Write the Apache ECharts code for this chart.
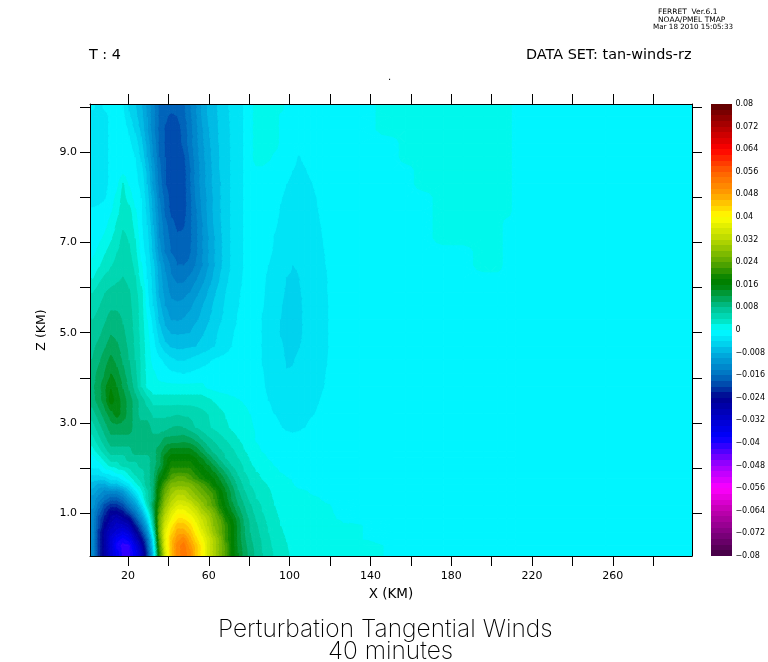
<!DOCTYPE html>
<html><head><meta charset="utf-8">
<style>html,body{margin:0;padding:0;background:#fff}#c{width:768px;height:662px}</style>
<script src="https://cdn.jsdelivr.net/npm/echarts@6/dist/echarts.min.js"></script>
</head><body><div id="c"></div>
<script>
// Tick values and text
const xTicks = [20,40,60,80,100,120,140,160,180,200,220,240,260,280];
const xLabels = [20,60,100,140,180,220,260];
const zTicks = [1,2,3,4,5,6,7,8,9,10];
const zLabels = [1,3,5,7,9];
const barLabels = [0.08,0.072,0.064,0.056,0.048,0.04,0.032,0.024,0.016,0.008,0,-0.008,-0.016,-0.024,-0.032,-0.04,-0.048,-0.056,-0.064,-0.072,-0.08];
const xRange = [1.19,299.2];
const zRange = [0.05,10.07];

// Colour stops of the key: [value, colour]
const keyStops = [[-0.08,'#400040'],[-0.072,'#800080'],[-0.064,'#c000b0'],[-0.056,'#ff00ff'],[-0.048,'#a000ff'],[-0.038,'#0000ff'],[-0.032,'#0000d0'],[-0.024,'#000090'],[-0.02,'#0040a8'],[-0.016,'#0070c0'],[-0.008,'#00b0e0'],[-0.005,'#00d2ee'],[-0.003,'#00e4f6'],[-0.001,'#00f5ff'],[0.001,'#00f8ec'],[0.003,'#00e6c8'],[0.008,'#00c090'],[0.016,'#008000'],[0.018,'#008000'],[0.024,'#5aa800'],[0.032,'#b8d800'],[0.04,'#ffff00'],[0.048,'#ffa000'],[0.056,'#ff6000'],[0.064,'#ff0000'],[0.072,'#b00000'],[0.08,'#5a0000']];

// Wind values in thousandths.
// Near field: x from 1 to 121 km in 3 km columns. Rows run bottom to top.
const nearXEdges = [1,4,7,10,13,16,19,22,25,28,31,34,37,40,43,46,49,52,55,58,61,64,67,70,73,76,79,82,85,88,91,94,97,100,103,106,109,112,115,118,121];
const nearZEdges = [0.05,0.2,0.35,0.5,0.65,0.8,0.95,1.1,1.25,1.4,1.55,1.7,1.85,2,2.15,2.3,2.45,2.75,3.05,3.35,3.65,3.95,4.25,4.55,4.85,5.15,5.45,5.75,6.05,6.35,6.65,6.95,7.25,7.55,7.85,8.15,8.45,8.75,9.05,9.35,9.65,9.95,10.07];
const r00 = [-13,-21,-27,-33,-37,-41,-41,-37,-31,-21,-7,19,35,45,51,53,51,45,41,35,31,27,23,17,14,11,9,7.3,6,4.8,3.7,3,2.3,1.5,1.3,1.2,1.1,1,.9,.8];
const r01 = [-13,-21,-27,-33,-39,-41,-41,-35,-29,-19,-5,21,37,45,51,53,49,45,41,35,31,27,23,17,13.5,10.7,8.7,7.1,5.8,4.4,3.5,2.8,2.1,1,.95,.9,.85,.8,.75,.7];
const r02 = [-13,-21,-27,-33,-37,-39,-37,-31,-25,-17,-3,23,37,45,49,51,47,43,39,35,31,27,21,17,13,10.3,8.2,6.9,5.6,4.2,3.4,2.6,1.9,1,.9,.8,.75,.7,.65,.6];
const r03 = [-13,-21,-27,-31,-33,-35,-33,-27,-21,-13,1,25,37,43,47,47,45,41,37,33,29,25,21,17,13,10,8,6.5,5.2,4,3.1,2.3,1.5,1,.85,.75,.65,.6,.55,.5];
const r04 = [-13,-19,-25,-29,-31,-31,-29,-23,-17,-9,5,25,35,41,45,45,43,39,35,32,28,25,21,17,13,10,7.8,6.2,4.9,3.7,2.8,2,1.4,1,.8,.7,.6,.5,.45,.4];
const r05 = [-13,-19,-23,-27,-29,-27,-25,-19,-13,-5,7,25,33,38,42,42,40,37,34,31,27,24,19,16,12.5,9.5,7.3,5.8,4.4,3.4,2.5,1.8,1.2,.8,.7,.6,.5,.4,.35,.3];
const r06 = [-13,-17,-21,-25,-25,-23,-19,-15,-9,-1,9,23,31,36,39,39,37,35,31,29,26,21,17,14,11,8.5,6.6,5.2,4,3.2,2.2,1.6,1,.5,.5,.4,.3,.25,.2,.15];
const r07 = [-11,-15,-19,-21,-21,-19,-15,-11,-5,3,11,21,29,33,36,36,35,32,29,26,23,19,15.5,12.5,10,8,6.2,4.8,3.7,2.9,2,1.4,.9,.4,.35,.3,.25,.2,.15,.05];
const r08 = [-11,-13,-15,-17,-17,-15,-11,-7,-1,5,9,19,27,31,33,33,31,29,27,25,22,18,14.5,11.5,9,7,5.2,4,3.2,2.5,1.7,1.2,.7,.3,.25,.2,.15,.1,-.1,-.4];
const r09 = [-9,-11,-13,-13,-13,-11,-7,-3,1,5,9,19,25,29,31,31,29,27,25,23,21,17,14,11,8.2,6.2,4.6,3.6,2.9,2.2,1.6,1.1,.6,.2,.15,.1,-.1,-.3,-.6,-.8];
const r10 = [-7,-9,-9,-7,-7,-5,-3,1,3,7,9,17,23,27,27,27,27,25,23,21,17,15,12.5,10,7.3,5.4,4,3.2,2.5,1.9,1.4,.9,.5,.05,-.2,-.4,-.6,-.8,-1,-1];
const r11 = [-5,-5,-5,-3,-3,-1,1,3,5,7,9,15,19,23,25,25,23,21,19,17,16,13.5,11,8.5,6.3,4.7,3.6,2.8,1.8,1.2,.8,.4,.05,-.1,-.5,-.8,-1,-1,-1,-1];
const r12 = [-3,-3,-1,-1,1,1,3,5,5,7,9,13,17,21,21,21,21,19,17,16,14,11.5,9.3,7,5.4,4,3,2,1.4,.9,.3,-.1,-.3,-.5,-.7,-.9,-1,-1,-1,-1];
const r13 = [-1,-1,1,3,3,5,5,5,7,7,9,11,15,19,19,19,19,17,16,14,11.6,9.2,7.2,5.7,4.6,3.6,2.2,1.3,.8,.3,-.1,-.3,-.4,-.5,-.7,-.9,-1,-1,-1,-1];
const r14 = [-1,1,3,5,5,5,7,7,7,7,9,11,15,17,17,17,17,16,14,11.5,9.3,7.4,5.8,4.7,4,3,1.8,1.1,.4,-.1,-.3,-.4,-.5,-.7,-.8,-1,-1,-1,-1,-1];
const r15 = [1,3,5,7,7,7,7,9,9,9,9,11,13,15,15,15,15,13.5,11.3,9,7.3,6.3,5.4,4.4,3.3,2.1,1.2,.5,-.1,-.3,-.4,-.5,-.6,-.7,-.9,-1,-1,-1,-1,-1];
const r16 = [3,5,7,9,9,9,9,9,9,9,9,9,11,11,11,11.5,11,10,8.3,6.8,5.9,4.9,4.1,3.1,2.2,1.4,.6,-.1,-.4,-.6,-.7,-.8,-.9,-1,-1,-1,-1,-1,-1,-1];
const r17 = [5,7,9,11,11,11,11,9,9,9,7,7,7,8,8.2,8,7,6,5,4.3,3.6,3,2.3,1.6,1,.6,.2,-.2,-1,-1.2,-1.5,-1.9,-2.4,-2.7,-2.4,-2,-1.6,-1.3,-1.1,-1];
const r18 = [7,9,11,13,15,13,11,9,7,7,5.5,5.5,5.5,5.5,5.8,5.5,5.5,5,4.5,4,3.2,2.5,1.8,1.2,.8,.4,0,-.5,-1.2,-1.6,-2,-2.4,-2.8,-3,-2.9,-2.6,-2.2,-1.9,-1.5,-1.2];
const r19 = [9,11,13,17,15,13,11,9,7,5,3,3,3,3,3,3,3,3,3,2.5,1.8,1.2,.8,.4,.1,-.2,-.5,-1,-1.7,-2,-2.5,-3,-3.3,-3.4,-3.3,-3,-2.6,-2.2,-1.8,-1.4];
const r20 = [9.6,11,13.5,15.8,14,11.8,9.6,7,4,1.5,.5,.5,.5,.5,.5,.5,.5,.5,.5,-.5,-.8,-1,-1,-1,-1,-1,-1,-1,-1.8,-2.3,-2.9,-3.4,-3.7,-3.7,-3.6,-3.3,-3,-2.6,-2.1,-1.6];
const r21 = [9,10.6,12,14,12.6,10.6,8.6,6.4,3.8,1.2,.3,-.7,-1.2,-1.7,-1.9,-2.05,-1.9,-1.6,-1.4,-1.2,-1,-1,-1,-1,-1,-1,-1,-1,-1.9,-2.5,-3.1,-3.6,-3.95,-3.9,-3.7,-3.4,-3.1,-2.7,-2.3,-1.7];
const r22 = [8,9.5,11,12.5,11.3,9.6,8,6,3.6,1,-.8,-1.6,-2.6,-3.6,-4.2,-4.2,-3.8,-3.3,-2.8,-2.4,-1.9,-1.6,-1.4,-1.2,-1,-1,-1,-1,-2.1,-2.7,-3.2,-3.7,-4.1,-4.1,-3.8,-3.4,-3.1,-2.8,-2.4,-1.9];
const r23 = [7.5,8.5,9.7,11,10.3,9,7.4,5.6,3.4,.8,-1.3,-3.6,-5.4,-6.3,-6.6,-6.5,-6.3,-6,-5.4,-4.8,-4.1,-3.4,-2.7,-2,-1.5,-1.2,-1,-1,-2.2,-2.7,-3.2,-3.8,-4.3,-4.4,-4.1,-3.6,-3.2,-2.9,-2.5,-2];
const r24 = [6.6,7.4,8.6,9.8,9.4,8.3,7.1,5.4,3.2,.5,-2,-5.2,-7.3,-8.2,-8.3,-8.2,-8,-7.2,-6.4,-5.5,-4.6,-3.7,-3,-2.2,-1.6,-1.2,-1,-1,-2.2,-2.8,-3.4,-4.1,-4.5,-4.6,-4.4,-3.8,-3.3,-2.9,-2.5,-2];
const r25 = [6,6.6,7.6,8.8,8.6,7.8,6.8,5.2,3,0,-3,-6.4,-8.7,-10.2,-10.3,-9.9,-9.1,-8.4,-7.6,-6.4,-5.3,-4.3,-3.5,-2.7,-1.9,-1.4,-1,-1,-2.1,-2.7,-3.3,-4,-4.5,-4.6,-4.3,-3.8,-3.3,-2.9,-2.5,-2];
const r26 = [4.9,5.8,6.8,7.5,7.6,7.3,6.5,5,3,-1.3,-4,-7.5,-10,-11.3,-11.6,-11.4,-10.7,-9.3,-8.2,-7,-5.8,-4.7,-3.7,-3,-2.1,-1.5,-1,-1,-1.9,-2.5,-3.2,-3.9,-4.4,-4.5,-4.3,-3.8,-3.3,-2.9,-2.5,-2];
const r27 = [3.9,4.8,5.9,6.5,6.8,6.9,6.2,4.6,2.8,-1.7,-4.7,-8.4,-11,-12.7,-13,-12.7,-12,-10.8,-9.5,-8,-6.5,-5.2,-4,-3.1,-2.3,-1.6,-1,-1,-1.8,-2.4,-3,-3.7,-4.2,-4.4,-4.2,-3.7,-3.3,-2.9,-2.4,-1.9];
const r28 = [2,3.4,4.4,5,5.6,6.1,5.4,4.2,1,-2,-5,-9,-11.6,-13.7,-14.6,-14.6,-13.6,-12.4,-11,-9.4,-7.7,-6,-4.5,-3.4,-2.6,-1.8,-1,-1,-1.7,-2.3,-2.9,-3.5,-4.05,-4.2,-4.05,-3.6,-3.2,-2.8,-2.4,-1.9];
const r29 = [.6,1.6,2.8,3.8,4.5,5.3,4.9,3.4,.3,-2.5,-5.5,-9.5,-12.4,-14.7,-16,-16,-15.7,-14,-12.3,-10.3,-8.3,-6.6,-5,-3.7,-2.8,-1.9,-1,-1,-1.5,-2,-2.6,-3.1,-3.6,-4,-3.9,-3.4,-3,-2.6,-2.2,-1.8];
const r30 = [-.6,.4,1.7,2.8,3.9,4.8,4.3,2.6,-1,-3,-6.7,-11.3,-14.3,-16.2,-17,-17,-16.3,-14.7,-12.4,-10.3,-8.3,-6.6,-5,-3.7,-2.8,-1.9,-1,-1,-1.3,-1.7,-2.2,-2.8,-3.2,-3.5,-3.4,-3.1,-2.8,-2.5,-2.1,-1.7];
const r31 = [-1,-.5,.3,1.6,3,4.4,3.8,2,-1.4,-3.5,-7.3,-12,-15,-16.7,-17.5,-17.5,-16.6,-14.7,-12.4,-10.3,-8.3,-6.6,-5,-3.7,-2.8,-1.9,-1,-1,-1.2,-1.5,-2.1,-2.6,-3,-3.2,-3.1,-2.9,-2.6,-2.3,-2,-1.6];
const r32 = [-1.2,-1,-.6,.6,2.2,3.7,3.4,1,-1.7,-4,-8,-12.5,-15.5,-17.3,-18.7,-18.3,-16.6,-14.7,-12.4,-10,-8,-6.3,-4.9,-3.7,-2.8,-1.9,-1,-1,-1.1,-1.3,-1.8,-2.3,-2.7,-2.9,-2.9,-2.7,-2.5,-2.2,-1.9,-1.5];
const r33 = [-1.8,-1.6,-1.2,-.3,1.2,3,2.8,.3,-1.8,-4.7,-8.7,-13.3,-16.5,-18.7,-19,-19,-16.8,-14.4,-12,-9.7,-7.7,-6.2,-4.9,-3.7,-2.8,-1.9,-1,-1,-1,-1.2,-1.6,-2.1,-2.5,-2.7,-2.7,-2.5,-2.3,-2.1,-1.7,-1.4];
const r34 = [-2.6,-2.6,-2.2,-1,.5,2.7,1,-1,-2,-5.3,-9.3,-14,-17,-19,-19,-19,-16.8,-14,-11.6,-9.7,-7.8,-6.2,-4.9,-3.7,-2.8,-1.9,-1,-1,-1,-1.1,-1.4,-1.9,-2.3,-2.5,-2.5,-2.4,-2.2,-2,-1.6,-1.3];
const r35 = [-3,-3,-2.8,-1.5,-.8,2.2,-.2,-1.5,-2.5,-6,-10.7,-15,-18,-19,-19,-19,-16.5,-13.6,-11.3,-9.3,-7.5,-6.2,-4.9,-3.7,-2.8,-1.9,-1,-1,-1,-1,-1.2,-1.6,-2,-2.3,-2.4,-2.3,-2.1,-1.8,-1.5,-1.2];
const r36 = [-3,-3,-2.8,-1.5,-1,-1,-1.2,-1.6,-3.2,-6.7,-11,-15.5,-18,-19,-19,-19,-16.5,-13.6,-11.3,-9.3,-7.5,-6,-4.9,-3.7,-2.8,-1.9,-1,-.5,-.5,-1,-1.1,-1.3,-1.7,-2,-2.2,-2.1,-1.8,-1.5,-1.3,-1.1];
const r37 = [-3,-3,-2.8,-1.5,-1,-1,-1.3,-2,-4.5,-8,-12,-16,-18,-19,-19,-18.5,-16,-13.2,-11,-9,-7.3,-6,-4.9,-3.7,-2.8,-1.9,-1,1,1,.5,-.5,-1.1,-1.4,-1.7,-2.1,-1.8,-1.5,-1.3,-1.1,-1];
const r38 = [-3,-3,-2.8,-1.5,-1,-1,-1.6,-3,-5.5,-8.7,-12.7,-16.3,-18.2,-19,-19,-17.6,-15.2,-12.8,-10.7,-8.7,-7.1,-5.8,-4.7,-3.7,-2.8,-1.9,-1,1,1,1,1,-.5,-1,-1,-1,-1,-1,-1,-1,-1];
const r39 = [-3,-3,-2.8,-1.5,-1,-1,-2.3,-4.3,-6.5,-10,-13.5,-16.6,-18.2,-19,-19,-17.3,-15.2,-12.8,-10.4,-8.3,-6.9,-5.7,-4.7,-3.7,-2.8,-1.9,-1,1,1,1,1,-.5,-1,-1,-1,-1,-1,-1,-1,-1];
const r40 = [-3,-3,-2.8,-1.5,-1,-1.5,-3.7,-5.4,-7.3,-10,-13.5,-16.3,-17.7,-18.5,-18,-16.7,-14.7,-12.4,-10,-8,-6.8,-5.6,-4.5,-3.6,-2.8,-1.9,-1,1,1,1,1,-.5,-1,-1,-1,-1,-1,-1,-1,-1];
const r41 = [-1.5,-3,-1.5,-1,-1,-2,-4.3,-5.8,-7.7,-10.5,-13.5,-16.5,-17,-17,-17,-16.5,-14.4,-12.4,-10,-7.8,-6.6,-5.5,-4.4,-3.5,-2.7,-1.9,-1,1,1,1,1,1,-1,-1,-1,-1,-1,-1,-1,-1];
const nearRows = [r00,r01,r02,r03,r04,r05,r06,r07,r08,r09,r10,r11,r12,r13,r14,r15,r16,r17,r18,r19,r20,r21,r22,r23,r24,r25,r26,r27,r28,r29,r30,r31,r32,r33,r34,r35,r36,r37,r38,r39,r40,r41];

// Far field: x from 121 km to the right edge, coarser cells.
const farXEdges = [121,148,154,161,171,181,191,201,205,210,214,299.2];
const farZEdges = [0.05,0.4,0.8,6.4,7,7.6,8.2,8.8,9.4,10.07];
const f00 = [1,-.4,-1,-1,-1,-1,-1,-1,-1,-1,-1];
const f01 = [.1,-1,-1,-1,-1,-1,-1,-1,-1,-1,-1];
const f02 = [-1,-1,-1,-1,-1,-1,-1,-1,-1,-1,-1];
const f1 = [-1,-1,-1,-1,-1,-1,1,1,-1,-1,-1];
const f2 = [-1,-1,-1,-1,1,1,1,1,-1,-1,-1];
const f3 = [-1,-1,-1,-1,1,1,1,1,1,-1,-1];
const f4 = [-1,-1,-1,1,1,1,1,1,1,-1,-1];
const f5 = [-1,-1,1,1,1,1,1,1,1,-1,-1];
const f6 = [-1,1,1,1,1,1,1,1,1,-1,-1];
const farRows = [f00,f01,f02,f1,f2,f3,f4,f5,f6];

// ---- rendering ----
function hex(c){return [1,3,5].map(i=>parseInt(c.substr(i,2),16));}
function paletteAt(v){
  for(let i=1;i<keyStops.length;i++){
    if(v<=keyStops[i][0]){
      const a=keyStops[i-1],b=keyStops[i],t=(v-a[0])/(b[0]-a[0]);
      const ca=hex(a[1]),cb=hex(b[1]);
      return 'rgb('+ca.map((x,k)=>Math.round(x+(cb[k]-x)*t)).join(',')+')';
    }
  }
  return keyStops[keyStops.length-1][1];
}
// each band of width 2 (thousandths) takes the key colour at its middle
function bandColour(k){return paletteAt((k+0.5)*0.002);}

const mids=e=>e.slice(0,-1).map((v,i)=>(v+e[i+1])/2);
const xNodes=[xRange[0],...mids(nearXEdges),...mids(farXEdges),xRange[1]];
const zNodes=[zRange[0],...mids(nearZEdges),zRange[1]];
function farValue(zc,c){
  for(let j=0;j<farRows.length;j++) if(zc<farZEdges[j+1]) return farRows[j][c];
  return farRows[farRows.length-1][c];
}
const fullRows=mids(nearZEdges).map((zc,j)=>{
  const far=farRows[0].map((_,c)=>farValue(zc,c));
  const r=[...nearRows[j],...far];
  return [r[0],...r,r[r.length-1]];
});
const table=[fullRows[0],...fullRows,fullRows[fullRows.length-1]];

// quads between neighbouring read values; the contour bands are drawn inside each one
const quads=[];
for(let j=0;j<zNodes.length-1;j++){
  for(let i=0;i<xNodes.length-1;i++){
    quads.push([xNodes[i],xNodes[i+1],zNodes[j],zNodes[j+1],
      table[j][i],table[j][i+1],table[j+1][i],table[j+1][i+1]]);
  }
}

function clipAt(poly,level,keepAbove){
  const out=[];
  for(let n=0;n<poly.length;n++){
    const a=poly[n],b=poly[(n+1)%poly.length];
    const ia=keepAbove?a[2]>=level:a[2]<=level;
    const ib=keepAbove?b[2]>=level:b[2]<=level;
    if(ia) out.push(a);
    if(ia!==ib){
      const t=(level-a[2])/(b[2]-a[2]);
      out.push([a[0]+(b[0]-a[0])*t,a[1]+(b[1]-a[1])*t,level]);
    }
  }
  return out;
}
function bandPolys(tri,out){
  const vs=tri.map(p=>p[2]);
  const lo=Math.floor(Math.min(...vs)/2),hi=Math.floor(Math.max(...vs)/2);
  for(let k=lo;k<=hi;k++){
    let p=clipAt(tri,2*k,true);
    if(p.length>2) p=clipAt(p,2*k+2,false);
    if(p.length>2) out.push([k,p.map(q=>[q[0],q[1]])]);
  }
}
function drawQuad(params,api){
  const a=api.coord([api.value(0),api.value(2)]),b=api.coord([api.value(1),api.value(2)]);
  const c=api.coord([api.value(0),api.value(3)]),d=api.coord([api.value(1),api.value(3)]);
  const v=[api.value(4),api.value(5),api.value(6),api.value(7)];
  const A=[a[0],a[1],v[0]],B=[b[0],b[1],v[1]],C=[c[0],c[1],v[2]],D=[d[0],d[1],v[3]];
  const polys=[];
  const mn=Math.floor(Math.min(...v)/2),mx=Math.floor(Math.max(...v)/2);
  if(mn===mx){
    polys.push([mn,[A,B,D,C].map(q=>[q[0],q[1]])]);
  }else{
    const M=[(a[0]+d[0])/2,(a[1]+d[1])/2,(v[0]+v[1]+v[2]+v[3])/4];
    bandPolys([A,B,M],polys);bandPolys([B,D,M],polys);bandPolys([D,C,M],polys);bandPolys([C,A,M],polys);
  }
  return {type:'group',silent:true,children:polys.map(p=>{
    const col=bandColour(p[0]);
    return {type:'polygon',shape:{points:p[1]},style:{fill:col,stroke:col,lineWidth:1}};
  })};
}

const keyBands=[];
for(let b=-40;b<40;b++) keyBands.push([0,1,b*0.002,(b+1)*0.002,b]);
function drawKey(params,api){
  const p0=api.coord([api.value(0),api.value(2)]);
  const p1=api.coord([api.value(1),api.value(3)]);
  const x0=Math.round(p0[0]),x1=Math.round(p1[0]),y0=Math.round(p1[1]),y1=Math.round(p0[1]);
  return {type:'rect',shape:{x:x0,y:y0,width:x1-x0,height:y1-y0},style:{fill:bandColour(api.value(4)),stroke:null}};
}

const FONT="'DejaVu Sans',sans-serif";
const THIN="Inter,'DejaVu Sans',sans-serif";
const INK='#000';
const tickStyle={lineStyle:{color:INK,width:1}};
function txt(text,left,top,size,family,weight){
  return {text:text,left:left,top:top,padding:0,itemGap:0,
    textStyle:{color:INK,fontFamily:family||FONT,fontSize:size,fontWeight:weight||'normal'}};
}

const chart=echarts.init(document.getElementById('c'),null,{renderer:'canvas'});
chart.setOption({
  animation:false,
  backgroundColor:'#fff',
  title:[
    txt('FERRET  Ver.6.1',658,8,7.5),
    txt('NOAA/PMEL TMAP',658,16,7.5),
    txt('Mar 18 2010 15:05:33',653,24,7.2),
    txt('T : 4',89,48,14.4),
    txt('DATA SET: tan-winds-rz',526,48,14.4),
    txt('.',388,72,10),
    txt('Perturbation Tangential Winds',218,617,24.5,THIN,200),
    txt('40 minutes',328,639,24.5,THIN,200)
  ],
  grid:[
    {left:90,top:104,width:602,height:452},
    {left:711,top:104,width:22,height:452}
  ],
  xAxis:[
    {type:'value',gridIndex:0,position:'bottom',min:xRange[0],max:xRange[1],z:10,
     name:'X (KM)',nameLocation:'middle',nameGap:31,
     nameTextStyle:{color:INK,fontFamily:FONT,fontSize:13.5},
     axisLine:{show:true,onZero:false,lineStyle:{color:INK,width:1}},
     axisTick:{show:true,length:10,customValues:xTicks,...tickStyle},
     axisLabel:{show:true,customValues:xLabels,margin:15,color:INK,fontFamily:FONT,fontSize:11},
     splitLine:{show:false}},
    {type:'value',gridIndex:0,position:'top',min:xRange[0],max:xRange[1],z:10,
     axisLine:{show:true,onZero:false,lineStyle:{color:INK,width:1}},
     axisTick:{show:true,length:10,customValues:xTicks,...tickStyle},
     axisLabel:{show:false},splitLine:{show:false}},
    {type:'value',gridIndex:1,min:0,max:1,show:false}
  ],
  yAxis:[
    {type:'value',gridIndex:0,position:'left',min:zRange[0],max:zRange[1],z:10,
     name:'Z (KM)',nameLocation:'middle',nameGap:38,nameRotate:90,
     nameTextStyle:{color:INK,fontFamily:FONT,fontSize:12.5},
     axisLine:{show:true,onZero:false,lineStyle:{color:INK,width:1}},
     axisTick:{show:true,length:10,customValues:zTicks,...tickStyle},
     axisLabel:{show:true,customValues:zLabels,margin:13,color:INK,fontFamily:FONT,fontSize:11,
       formatter:v=>Number(v).toFixed(1)},
     splitLine:{show:false}},
    {type:'value',gridIndex:0,position:'right',min:zRange[0],max:zRange[1],z:10,
     axisLine:{show:true,onZero:false,lineStyle:{color:INK,width:1}},
     axisTick:{show:true,length:10,customValues:zTicks,...tickStyle},
     axisLabel:{show:false},splitLine:{show:false}},
    {type:'value',gridIndex:1,position:'right',min:-0.08,max:0.08,
     axisLine:{show:false},axisTick:{show:false},splitLine:{show:false},
     axisLabel:{show:true,customValues:barLabels,margin:3,color:INK,fontFamily:FONT,fontSize:8,
       formatter:v=>String(+Number(v).toFixed(3)).replace('-','\u2212')}}
  ],
  series:[
    {type:'custom',name:'Perturbation Tangential Winds',xAxisIndex:0,yAxisIndex:0,
     data:quads,renderItem:drawQuad,clip:true,silent:true,encode:{x:[0,1],y:[2,3]}},
    {type:'custom',name:'Colour key',xAxisIndex:2,yAxisIndex:2,
     data:keyBands,renderItem:drawKey,silent:true,encode:{x:[0,1],y:[2,3]}}
  ]
});
</script></body></html>
